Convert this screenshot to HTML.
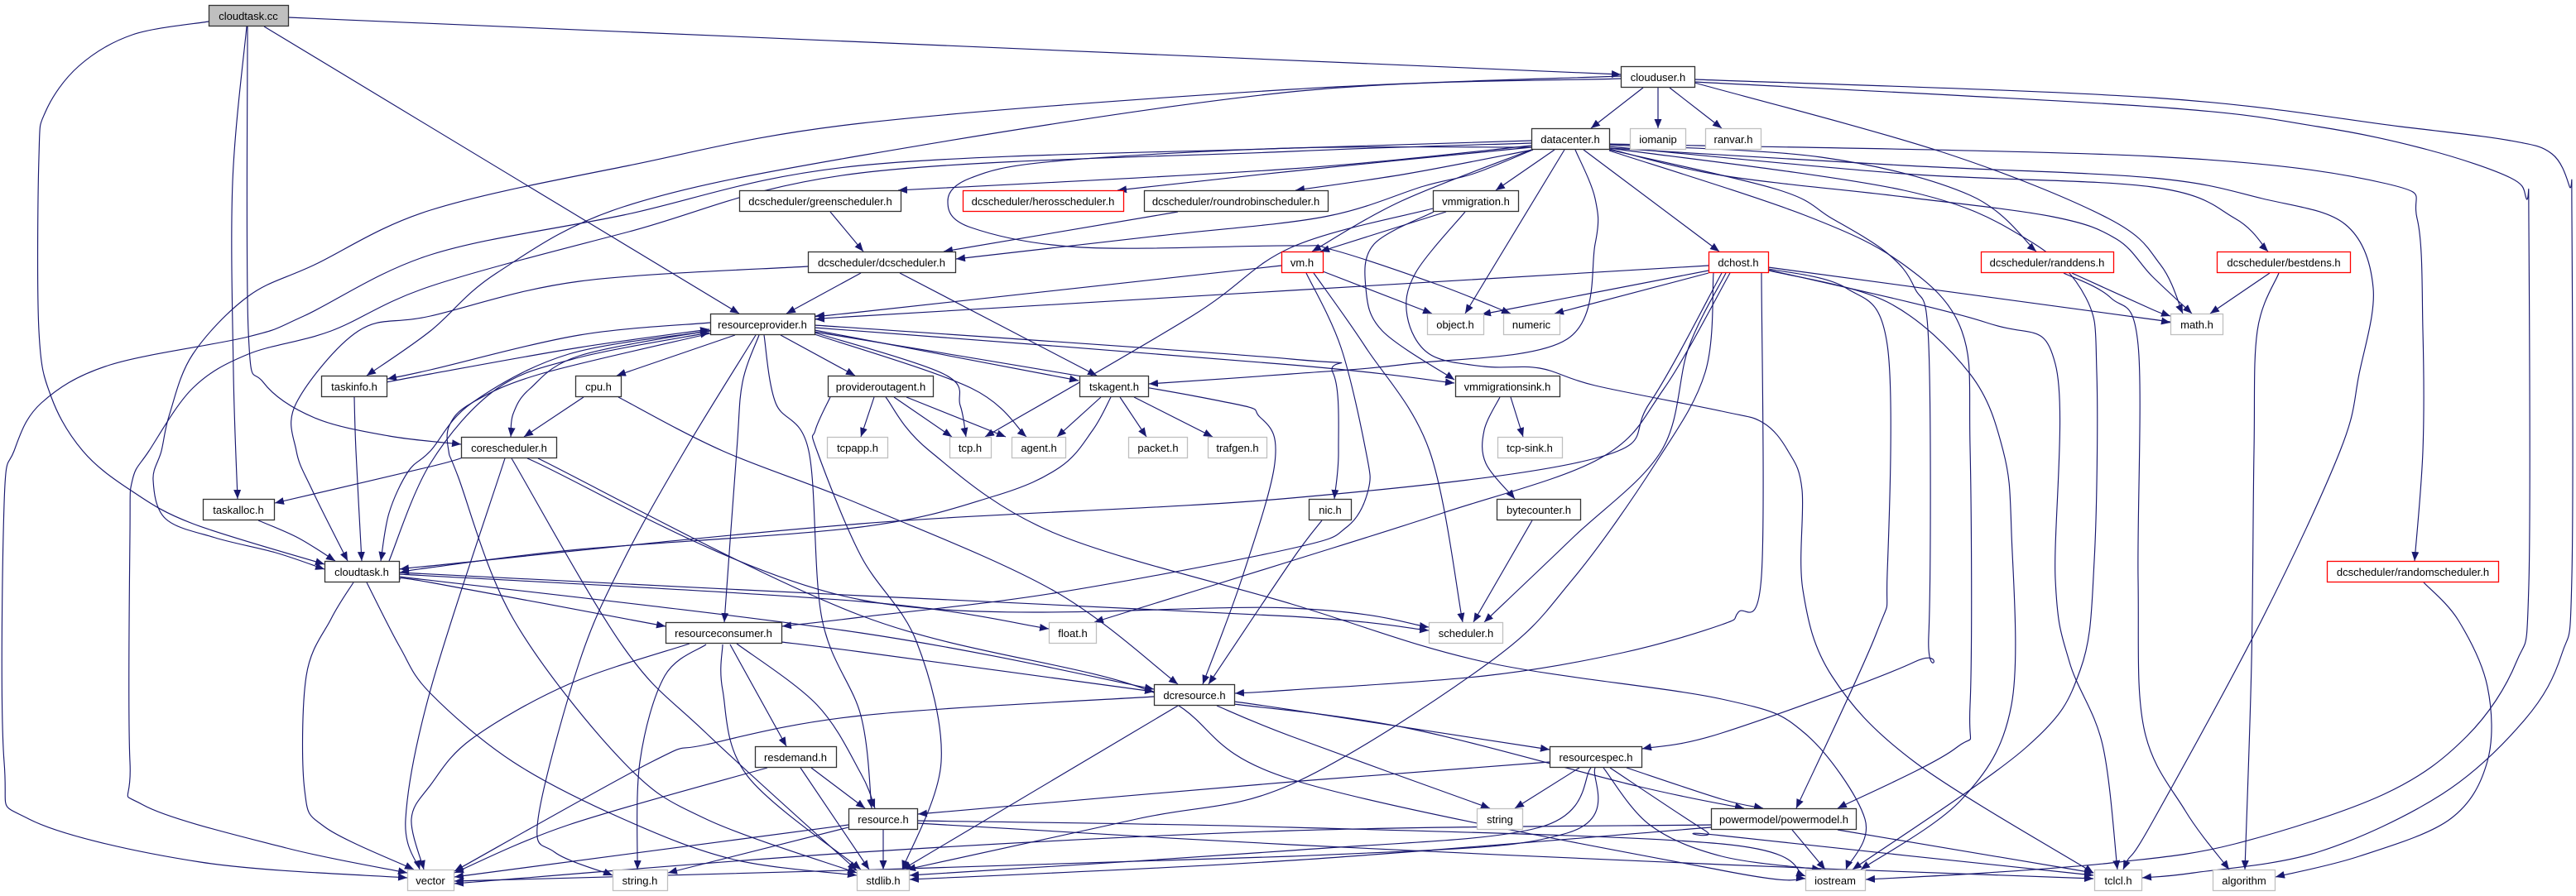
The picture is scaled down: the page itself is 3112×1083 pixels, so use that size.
<!DOCTYPE html>
<html><head><meta charset="utf-8"><style>
html,body{margin:0;padding:0;background:#fff;}
svg{display:block;}
.e{fill:none;stroke:#191970;stroke-width:1.15;stroke-linejoin:round;marker-end:url(#a);}
rect{fill:#fff;stroke-width:1.3;}
.n rect{stroke:#333;}
.g rect{stroke:#bfbfbf;}
.r rect{stroke:#ff0000;}
.c rect{fill:#bfbfbf;stroke:#333;}
text{font-family:"Liberation Sans",Arial,sans-serif;font-size:13px;fill:#000;text-anchor:middle;}
</style></head><body>
<svg width="3112" height="1083" viewBox="0 0 3112 1083" xmlns="http://www.w3.org/2000/svg">
<defs><marker id="a" markerUnits="userSpaceOnUse" markerWidth="12" markerHeight="9" refX="11" refY="4.5" orient="auto"><path d="M0,0 L11,4.5 L0,9 z" fill="#191970"/></marker></defs>
<g id="edges">
<polyline class="e" points="348,21 1958,90"/>
<polyline class="e" points="319,32 893,379"/>
<polyline class="e" points="298,32 281,220 282,450 287,603"/>
<polyline class="e" points="299,32 300,400 318,462 380,505 470,527 557,537"/>
<polyline class="e" points="252,26 160,42 95,80 55,135 47,190 47,400 62,480 100,545 157,592 233,633 392,682"/>
<polyline class="e" points="1985,106 1922,155"/>
<polyline class="e" points="2003,106 2003,155"/>
<polyline class="e" points="2017,106 2080,155"/>
<polyline class="e" points="2047,100 2347,184 2547,264 2610,320 2637,379"/>
<polyline class="e" points="2047,96 2600,118 2900,153 3033,170 3083,186 3104,225 3107,260 3107,696 3095,790 3050,870 2950,960 2800,1030 2650,1055 2588,1061"/>
<polyline class="e" points="2047,99 2600,129 2800,153 2933,181 3033,215 3052,240 3055,270 3055,706 3040,800 2980,890 2880,960 2700,1020 2560,1042 2400,1055 2254,1063"/>
<polyline class="e" points="1958,92 1560,108 1040,149 760,200 520,254 380,320 300,358 233,428 205,500 195,545 185,580 200,627 260,650 333,668 392,688"/>
<polyline class="e" points="1958,95 1560,111 1040,188 753,250 600,330 520,400 443,454"/>
<polyline class="e" points="1850,170 1560,179 1040,200 753,260 520,308 367,382 300,407 133,441 50,487 17,545 5,609 5,921 35,990 242,1042 492,1061"/>
<polyline class="e" points="1850,173 1560,183 1040,209 760,280 520,346 400,400 300,428 233,469 180,545 160,580 157,644 157,921 173,973 346,1025 492,1055"/>
<polyline class="e" points="1850,176 1560,204 1085,230"/>
<polyline class="e" points="1850,178 1560,207 1350,230"/>
<polyline class="e" points="1852,181 1700,210 1565,230"/>
<polyline class="e" points="1878,181 1807,230"/>
<polyline class="e" points="1852,181 1780,210 1720,225 1600,262 1400,285 1155,313"/>
<polyline class="e" points="1850,181 1693,243 1585,304"/>
<polyline class="e" points="1890,181 1770,379"/>
<polyline class="e" points="1850,178 1560,179 1273,195 1173,215 1145,243 1173,275 1307,299 1560,297 1610,302 1737,344 1825,379"/>
<polyline class="e" points="1903,181 1927,240 1927,295 1893,410 1700,440 1560,452 1388,464"/>
<polyline class="e" points="1913,181 2077,304"/>
<polyline class="e" points="1944,175 2200,190 2380,236 2460,304"/>
<polyline class="e" points="1944,177 2300,210 2600,226 2700,264 2740,304"/>
<polyline class="e" points="1944,174 2600,189 2883,222 2920,264 2927,400 2927,545 2917,678"/>
<polyline class="e" points="1944,180 2080,212 2300,238 2480,262 2557,289 2600,334 2648,379"/>
<polyline class="e" points="1944,179 2300,200 2600,215 2733,240 2833,271 2867,348 2850,452 2827,545 2733,748 2600,994 2570,1040 2565,1051"/>
<polyline class="e" points="1944,181 2147,229 2213,264 2280,306 2313,348 2330,417 2330,768 2313,800 2080,886 1984,905"/>
<polyline class="e" points="1944,182 2180,260 2300,320 2370,400 2380,540 2380,852 2363,904 2220,977"/>
<polyline class="e" points="1944,179 2300,230 2450,290 2520,360 2533,450 2530,678 2513,810 2447,904 2238,1051"/>
<polyline class="e" points="2064,321 1560,351 1040,382 985,386"/>
<polyline class="e" points="2064,327 1790,380"/>
<polyline class="e" points="2064,330 1878,379"/>
<polyline class="e" points="2136,323 2600,386 2622,390"/>
<polyline class="e" points="2085,330 2040,420 2007,545 1900,650 1793,752"/>
<polyline class="e" points="2080,330 1993,487 1927,554 1560,602 1040,633 520,684 483,688"/>
<polyline class="e" points="2090,330 2010,470 1933,554 1743,620 1560,678 1322,752"/>
<polyline class="e" points="2128,330 2128,696 2100,740 2080,755 1960,789 1793,817 1560,834 1492,838"/>
<polyline class="e" points="2137,325 2230,348 2280,417 2280,692 2267,765 2170,977"/>
<polyline class="e" points="2137,327 2280,365 2380,452 2420,545 2430,644 2430,852 2370,966 2248,1051"/>
<polyline class="e" points="2136,326 2400,390 2483,440 2483,700 2500,800 2540,900 2558,1051"/>
<polyline class="e" points="2070,330 2060,450 2000,560 1900,700 1800,800 1560,948 1373,990 1095,1051"/>
<polyline class="e" points="2503,330 2600,374 2622,382"/>
<polyline class="e" points="2493,330 2550,360 2583,417 2583,700 2590,880 2640,980 2693,1051"/>
<polyline class="e" points="2742,330 2670,379"/>
<polyline class="e" points="2753,330 2727,400 2723,545 2720,800 2712,1051"/>
<polyline class="e" points="2928,704 2970,750 3005,830 3005,920 2960,990 2850,1035 2749,1060"/>
<polyline class="e" points="1598,328 1730,379"/>
<polyline class="e" points="1587,330 1650,420 1727,545 1767,752"/>
<polyline class="e" points="1578,330 1620,420 1650,545 1653,592 1627,637 1560,663 1273,717 1040,746 945,757"/>
<polyline class="e" points="1548,321 1040,377 985,382"/>
<polyline class="e" points="1747,256 1595,304"/>
<polyline class="e" points="1732,256 1660,295 1650,348 1670,400 1757,459"/>
<polyline class="e" points="1731,252 1560,299 1440,382 1190,528"/>
<polyline class="e" points="1770,256 1710,330 1700,382 1727,428 1793,443 1860,445 1927,466 2080,497 2130,511 2160,545 2177,592 2178,713 2213,817 2313,921 2529,1055"/>
<polyline class="e" points="1003,256 1043,304"/>
<polyline class="e" points="1423,256 1140,304"/>
<polyline class="e" points="1040,330 950,379"/>
<polyline class="e" points="976,322 700,340 520,382 433,400 358,487 358,545 377,592 420,678"/>
<polyline class="e" points="1087,330 1325,454"/>
<polyline class="e" points="858,390 700,405 520,447 468,458"/>
<polyline class="e" points="467,462 520,452 700,420 857,398"/>
<polyline class="e" points="428,480 430,545 437,678"/>
<polyline class="e" points="888,405 745,454"/>
<polyline class="e" points="860,399 700,430 640,470 620,500 617,528"/>
<polyline class="e" points="858,403 653,452 570,487 543,514 542,545 553,575 620,748 753,921 853,990 1035,1055"/>
<polyline class="e" points="943,405 1033,454"/>
<polyline class="e" points="984,399 1303,460"/>
<polyline class="e" points="984,402 1140,452 1160,490 1167,528"/>
<polyline class="e" points="984,404 1173,469 1240,528"/>
<polyline class="e" points="984,396 1560,441 1757,463"/>
<polyline class="e" points="984,393 1560,434 1610,450 1617,545 1612,603"/>
<polyline class="e" points="984,401 1450,480 1523,505 1540,560 1500,700 1453,827"/>
<polyline class="e" points="913,405 827,545 753,678 700,800 650,990 670,1030 740,1058"/>
<polyline class="e" points="917,405 897,462 890,545 875,752"/>
<polyline class="e" points="923,405 937,487 977,545 993,748 1040,865 1053,977"/>
<polyline class="e" points="858,400 687,428 570,487 520,545 493,570 470,620 460,678"/>
<polyline class="e" points="470,678 520,560 600,470 700,432 857,402"/>
<polyline class="e" points="312,629 360,650 405,678"/>
<polyline class="e" points="562,552 520,564 332,608"/>
<polyline class="e" points="610,554 520,834 490,990 507,1051"/>
<polyline class="e" points="618,554 753,782 853,886 1035,1052"/>
<polyline class="e" points="637,554 1040,725 1560,735 1726,758"/>
<polyline class="e" points="650,554 1040,744 1386,834 1560,942 2080,1052 2181,1062"/>
<polyline class="e" points="705,480 633,528"/>
<polyline class="e" points="747,480 873,545 1040,610 1273,714 1423,827"/>
<polyline class="e" points="1056,480 1040,528"/>
<polyline class="e" points="1080,480 1150,528"/>
<polyline class="e" points="1095,480 1215,528"/>
<polyline class="e" points="1070,480 1123,545 1273,644 1560,730 1793,800 2080,845 2180,886 2253,990 2230,1051"/>
<polyline class="e" points="1003,480 985,520 987,545 1040,672 1107,775 1137,921 1090,1051"/>
<polyline class="e" points="1330,480 1277,528"/>
<polyline class="e" points="1353,480 1385,528"/>
<polyline class="e" points="1370,480 1465,528"/>
<polyline class="e" points="1342,480 1320,520 1280,565 1200,600 1040,637 700,664 520,686 483,692"/>
<polyline class="e" points="1825,480 1840,528"/>
<polyline class="e" points="1812,480 1793,520 1795,560 1830,603"/>
<polyline class="e" points="1851,629 1780,752"/>
<polyline class="e" points="1597,629 1560,678 1460,827"/>
<polyline class="e" points="427,704 400,748 370,817 368,955 393,1000 500,1051"/>
<polyline class="e" points="443,704 483,782 520,838 620,921 753,990 887,1039 1035,1058"/>
<polyline class="e" points="482,700 520,704 804,757"/>
<polyline class="e" points="482,692 1040,720 1560,745 1726,762"/>
<polyline class="e" points="482,694 1040,727 1267,760"/>
<polyline class="e" points="482,697 1040,765 1394,833"/>
<polyline class="e" points="833,778 687,827 570,893 520,949 497,990 512,1051"/>
<polyline class="e" points="853,779 803,817 773,921 770,1051"/>
<polyline class="e" points="873,779 873,834 903,938 1040,1051"/>
<polyline class="e" points="882,779 950,902"/>
<polyline class="e" points="890,778 987,852 1040,935 1057,977"/>
<polyline class="e" points="944,776 1040,788 1394,836"/>
<polyline class="e" points="980,928 1045,977"/>
<polyline class="e" points="967,928 1050,1051"/>
<polyline class="e" points="927,928 687,997 549,1055"/>
<polyline class="e" points="1067,1003 1067,1051"/>
<polyline class="e" points="1025,997 549,1060"/>
<polyline class="e" points="1025,1000 807,1055"/>
<polyline class="e" points="1108,992 1560,1000 2080,1020 2181,1059"/>
<polyline class="e" points="1108,995 1560,1021 2080,1045 2529,1062"/>
<polyline class="e" points="1423,853 1090,1051"/>
<polyline class="e" points="1470,853 1560,890 1800,977"/>
<polyline class="e" points="1491,848 1560,858 1872,906"/>
<polyline class="e" points="1491,851 1700,880 1977,950 2107,977"/>
<polyline class="e" points="1394,842 1040,865 853,900 787,921 549,1053"/>
<polyline class="e" points="1908,928 1830,977"/>
<polyline class="e" points="1872,921 1560,945 1109,984"/>
<polyline class="e" points="1922,928 1860,1000 1560,1028 1099,1058"/>
<polyline class="e" points="1927,928 1893,1007 1560,1035 549,1065"/>
<polyline class="e" points="1937,928 1993,997 2080,1035 2200,1051"/>
<polyline class="e" points="1945,928 2060,1004 2080,1010 2529,1058"/>
<polyline class="e" points="1965,928 2080,966 2130,977"/>
<polyline class="e" points="2165,1003 2205,1051"/>
<polyline class="e" points="2220,1003 2529,1055"/>
<polyline class="e" points="2067,997 1560,1004 1040,1030 549,1068"/>
<polyline class="e" points="2067,1000 1560,1040 1099,1063"/>
</g>
<g id="nodes">
<g class="c"><rect x="252.5" y="6.5" width="96" height="25"/><text x="300" y="24">cloudtask.cc</text></g>
<g class="n"><rect x="1958.5" y="80.5" width="89" height="25"/><text x="2003" y="98">clouduser.h</text></g>
<g class="n"><rect x="1850.5" y="155.5" width="94" height="25"/><text x="1897" y="173">datacenter.h</text></g>
<g class="g"><rect x="1969.5" y="155.5" width="67" height="25"/><text x="2003" y="173">iomanip</text></g>
<g class="g"><rect x="2060.5" y="155.5" width="67" height="25"/><text x="2094" y="173">ranvar.h</text></g>
<g class="n"><rect x="893.5" y="230.5" width="195" height="25"/><text x="991" y="248">dcscheduler/greenscheduler.h</text></g>
<g class="r"><rect x="1163.5" y="230.5" width="194" height="25"/><text x="1260" y="248">dcscheduler/herosscheduler.h</text></g>
<g class="n"><rect x="1382.5" y="230.5" width="222" height="25"/><text x="1493" y="248">dcscheduler/roundrobinscheduler.h</text></g>
<g class="n"><rect x="1731.5" y="230.5" width="103" height="25"/><text x="1783" y="248">vmmigration.h</text></g>
<g class="n"><rect x="976.5" y="304.5" width="178" height="25"/><text x="1065" y="322">dcscheduler/dcscheduler.h</text></g>
<g class="r"><rect x="1548.5" y="304.5" width="50" height="25"/><text x="1573" y="322">vm.h</text></g>
<g class="r"><rect x="2064.5" y="304.5" width="72" height="25"/><text x="2100" y="322">dchost.h</text></g>
<g class="r"><rect x="2393.5" y="304.5" width="160" height="25"/><text x="2473" y="322">dcscheduler/randdens.h</text></g>
<g class="r"><rect x="2678.5" y="304.5" width="161" height="25"/><text x="2759" y="322">dcscheduler/bestdens.h</text></g>
<g class="n"><rect x="858.5" y="379.5" width="126" height="25"/><text x="921" y="397">resourceprovider.h</text></g>
<g class="g"><rect x="1724.5" y="379.5" width="68" height="25"/><text x="1758" y="397">object.h</text></g>
<g class="g"><rect x="1816.5" y="379.5" width="68" height="25"/><text x="1850" y="397">numeric</text></g>
<g class="g"><rect x="2622.5" y="379.5" width="63" height="25"/><text x="2654" y="397">math.h</text></g>
<g class="n"><rect x="388.5" y="454.5" width="79" height="25"/><text x="428" y="472">taskinfo.h</text></g>
<g class="n"><rect x="695.5" y="454.5" width="55" height="25"/><text x="723" y="472">cpu.h</text></g>
<g class="n"><rect x="1000.5" y="454.5" width="127" height="25"/><text x="1064" y="472">provideroutagent.h</text></g>
<g class="n"><rect x="1304.5" y="454.5" width="83" height="25"/><text x="1346" y="472">tskagent.h</text></g>
<g class="n"><rect x="1758.5" y="454.5" width="126" height="25"/><text x="1821" y="472">vmmigrationsink.h</text></g>
<g class="n"><rect x="557.5" y="528.5" width="115" height="25"/><text x="615" y="546">corescheduler.h</text></g>
<g class="g"><rect x="999.5" y="528.5" width="73" height="25"/><text x="1036" y="546">tcpapp.h</text></g>
<g class="g"><rect x="1147.5" y="528.5" width="50" height="25"/><text x="1172" y="546">tcp.h</text></g>
<g class="g"><rect x="1222.5" y="528.5" width="65" height="25"/><text x="1255" y="546">agent.h</text></g>
<g class="g"><rect x="1363.5" y="528.5" width="71" height="25"/><text x="1399" y="546">packet.h</text></g>
<g class="g"><rect x="1459.5" y="528.5" width="71" height="25"/><text x="1495" y="546">trafgen.h</text></g>
<g class="g"><rect x="1809.5" y="528.5" width="78" height="25"/><text x="1848" y="546">tcp-sink.h</text></g>
<g class="n"><rect x="245.5" y="603.5" width="86" height="25"/><text x="288" y="621">taskalloc.h</text></g>
<g class="n"><rect x="1581.5" y="603.5" width="51" height="25"/><text x="1607" y="621">nic.h</text></g>
<g class="n"><rect x="1808.5" y="603.5" width="101" height="25"/><text x="1859" y="621">bytecounter.h</text></g>
<g class="n"><rect x="392.5" y="678.5" width="90" height="25"/><text x="437" y="696">cloudtask.h</text></g>
<g class="r"><rect x="2811.5" y="678.5" width="207" height="25"/><text x="2915" y="696">dcscheduler/randomscheduler.h</text></g>
<g class="n"><rect x="804.5" y="752.5" width="140" height="25"/><text x="874" y="770">resourceconsumer.h</text></g>
<g class="g"><rect x="1267.5" y="752.5" width="57" height="25"/><text x="1296" y="770">float.h</text></g>
<g class="g"><rect x="1726.5" y="752.5" width="89" height="25"/><text x="1771" y="770">scheduler.h</text></g>
<g class="n"><rect x="1394.5" y="827.5" width="97" height="25"/><text x="1443" y="845">dcresource.h</text></g>
<g class="n"><rect x="912.5" y="902.5" width="98" height="25"/><text x="961" y="920">resdemand.h</text></g>
<g class="n"><rect x="1872.5" y="902.5" width="111" height="25"/><text x="1928" y="920">resourcespec.h</text></g>
<g class="n"><rect x="1025.5" y="977.5" width="83" height="25"/><text x="1067" y="995">resource.h</text></g>
<g class="g"><rect x="1784.5" y="977.5" width="55" height="25"/><text x="1812" y="995">string</text></g>
<g class="n"><rect x="2067.5" y="977.5" width="175" height="25"/><text x="2155" y="995">powermodel/powermodel.h</text></g>
<g class="g"><rect x="492.5" y="1051.5" width="56" height="25"/><text x="520" y="1069">vector</text></g>
<g class="g"><rect x="740.5" y="1051.5" width="66" height="25"/><text x="773" y="1069">string.h</text></g>
<g class="g"><rect x="1035.5" y="1051.5" width="63" height="25"/><text x="1067" y="1069">stdlib.h</text></g>
<g class="g"><rect x="2181.5" y="1051.5" width="72" height="25"/><text x="2217" y="1069">iostream</text></g>
<g class="g"><rect x="2530.5" y="1051.5" width="57" height="25"/><text x="2559" y="1069">tclcl.h</text></g>
<g class="g"><rect x="2673.5" y="1051.5" width="75" height="25"/><text x="2711" y="1069">algorithm</text></g>
</g>
</svg>
<script>
(function(){
try{
var pls=document.querySelectorAll('polyline.e');
for(var k=0;k<pls.length;k++){
var pl=pls[k];
var pts=pl.getAttribute('points').trim().split(/\s+/).map(function(s){var a=s.split(',');return [+a[0],+a[1]];});
if(pts.length<3) continue;
var d='M'+pts[0][0]+','+pts[0][1];
for(var i=0;i<pts.length-1;i++){
var p0=pts[i>0?i-1:0],p1=pts[i],p2=pts[i+1],p3=pts[i+2<pts.length?i+2:i+1];
var c1x=p1[0]+(p2[0]-p0[0])/6,c1y=p1[1]+(p2[1]-p0[1])/6,c2x=p2[0]-(p3[0]-p1[0])/6,c2y=p2[1]-(p3[1]-p1[1])/6;
d+=' C'+c1x.toFixed(1)+','+c1y.toFixed(1)+' '+c2x.toFixed(1)+','+c2y.toFixed(1)+' '+p2[0]+','+p2[1];
}
var p=document.createElementNS('http://www.w3.org/2000/svg','path');
p.setAttribute('d',d);p.setAttribute('class','e');
pl.parentNode.replaceChild(p,pl);
}
}catch(e){}
})();
</script>
</body></html>
